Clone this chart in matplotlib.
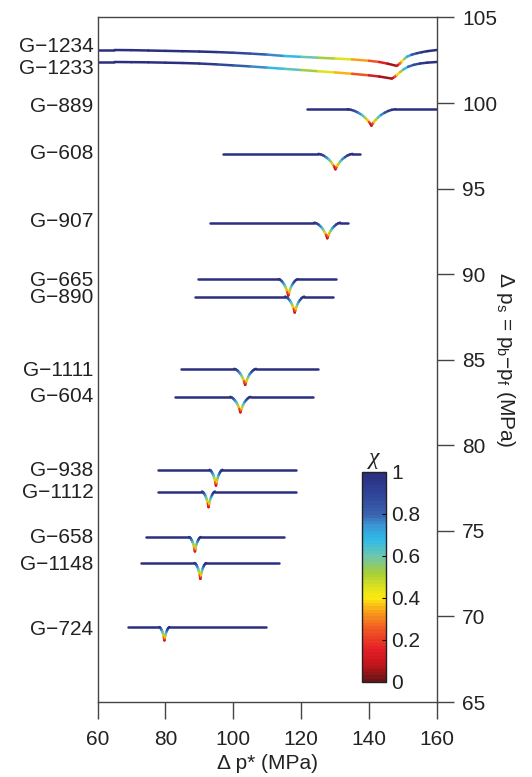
import numpy as np
import matplotlib
matplotlib.use('Agg')
import matplotlib.pyplot as plt
from matplotlib.collections import LineCollection
from matplotlib.colors import LinearSegmentedColormap, Normalize
from matplotlib.cm import ScalarMappable
import matplotlib.transforms as mtransforms

plt.rcParams['font.family'] = ['Liberation Sans', 'DejaVu Sans']
plt.rcParams['mathtext.fontset'] = 'custom'
plt.rcParams['mathtext.rm'] = 'Liberation Sans'
plt.rcParams['mathtext.it'] = 'Liberation Sans:italic'

# two long curves at the top, read point by point
G1234_X = [60, 65, 70, 75, 80, 85, 90, 95, 100, 105, 110, 115, 120, 125, 130, 135, 140, 143, 145.5, 148.2,
           149.0, 149.6, 150.4, 151.2, 152.5, 154.1, 155.5, 157.1, 160]
G1234_Y = [103.10, 103.10, 103.09, 103.07, 103.05, 103.03, 103.01, 102.98, 102.94, 102.89, 102.83, 102.75,
           102.70, 102.65, 102.60, 102.55, 102.47, 102.40, 102.30, 102.17,
           102.30, 102.42, 102.58, 102.71, 102.82, 102.91, 102.97, 103.03, 103.10]
G1234_CHI = [1, 1, 1, 1, 1, 1, 1, 0.97, 0.92, 0.86, 0.8, 0.72, 0.64, 0.56, 0.48, 0.4, 0.28, 0.2, 0.1, 0.02,
             0.2, 0.35, 0.5, 0.65, 0.78, 0.88, 0.93, 0.97, 1]

G1233_X = [60, 65, 70, 75, 80, 85, 90, 95, 100, 105, 110, 115, 120, 125, 130, 135, 140, 143, 146.7,
           147.5, 148.2, 149.2, 150.2, 151.5, 153.1, 155, 157.1, 160]
G1233_Y = [102.40, 102.40, 102.39, 102.38, 102.36, 102.34, 102.31, 102.26, 102.20, 102.14, 102.07, 102.00,
           101.93, 101.86, 101.79, 101.71, 101.62, 101.55, 101.43,
           101.52, 101.64, 101.82, 101.97, 102.12, 102.23, 102.31, 102.36, 102.40]
G1233_CHI = [1, 1, 1, 1, 1, 1, 0.97, 0.92, 0.85, 0.78, 0.72, 0.65, 0.57, 0.48, 0.4, 0.3, 0.18, 0.1, 0.02,
             0.15, 0.3, 0.45, 0.6, 0.75, 0.85, 0.92, 0.97, 1]

# dip profile shared by the short curves (offset / half width, fraction of depth, chi)
DIP_U = [1.0, 0.85, 0.7, 0.55, 0.4, 0.28, 0.18, 0.1, 0.04, 0.0]
DIP_F = [0.0, 0.04, 0.11, 0.22, 0.35, 0.5, 0.65, 0.78, 0.9, 1.0]
DIP_CHI = [1.0, 0.97, 0.9, 0.8, 0.7, 0.58, 0.42, 0.3, 0.15, 0.03]

NAMES = ['G\u2212889', 'G\u2212608', 'G\u2212907', 'G\u2212665', 'G\u2212890', 'G\u22121111', 'G\u2212604',
         'G\u2212938', 'G\u22121112', 'G\u2212658', 'G\u22121148', 'G\u2212724']
BASE = [99.64, 97.03, 93.01, 89.71, 88.69, 84.47, 82.83, 78.57, 77.30, 74.64, 73.12, 69.38]
X_START = [121.6, 97.1, 93.1, 89.7, 88.7, 84.5, 82.7, 77.8, 77.8, 74.3, 72.8, 69.0]
X_END = [160, 137.3, 133.8, 130.3, 129.3, 125.1, 123.6, 118.4, 118.4, 115.0, 113.5, 109.7]
DIP_X = [140.7, 130.1, 127.7, 116.2, 118.1, 103.5, 102.1, 94.9, 92.7, 88.7, 90.3, 79.7]
DEPTH = [0.96, 0.90, 0.91, 0.96, 0.93, 0.94, 0.90, 0.92, 0.91, 0.84, 0.92, 0.78]
HALF_W = [7.0, 5.0, 3.8, 2.8, 2.8, 3.2, 3.0, 1.9, 1.9, 1.7, 1.7, 1.5]

LABELS = ['G\u22121234', 'G\u22121233'] + NAMES
LABEL_Y = [103.30, 102.03, 99.79, 97.03, 93.05, 89.63, 88.62, 84.40, 82.83, 78.51, 77.23, 74.60, 73.02, 69.22]

CMAP_COLORS = [(0.0, '#6b1416'), (0.08, '#c4161c'), (0.15, '#e31f26'), (0.25, '#f15a24'),
               (0.32, '#f7941d'), (0.4, '#fde910'), (0.46, '#d7df23'), (0.52, '#a6ce39'),
               (0.6, '#6ec6b0'), (0.68, '#2fbbe8'), (0.75, '#3a96d4'), (0.8, '#3a64ae'),
               (0.9, '#2f4598'), (1.0, '#2a2f80')]
cmap = LinearSegmentedColormap.from_list('chi', CMAP_COLORS, N=64)
norm = Normalize(0, 1)


def dip_points(base, x0, x1, xc, depth, hw):
    xs = [x0]
    ys = [base]
    cs = [1.0]
    for u, f, c in zip(DIP_U, DIP_F, DIP_CHI):
        xs.append(xc - u * hw); ys.append(base - depth * f); cs.append(c)
    for u, f, c in zip(DIP_U[::-1][1:], DIP_F[::-1][1:], DIP_CHI[::-1][1:]):
        xs.append(xc + u * hw); ys.append(base - depth * f); cs.append(c)
    xs.append(x1); ys.append(base); cs.append(1.0)
    return np.array(xs), np.array(ys), np.array(cs)


def add_colored(ax, x, y, c):
    x = np.asarray(x, float); y = np.asarray(y, float); c = np.asarray(c, float)
    pts = np.column_stack([x, y]).reshape(-1, 1, 2)
    segs = np.concatenate([pts[:-1], pts[1:]], axis=1)
    lc = LineCollection(segs, cmap=cmap, norm=norm, linewidths=1.8, capstyle='round', joinstyle='round')
    lc.set_array(0.5 * (c[:-1] + c[1:]))
    ax.add_collection(lc)


fig = plt.figure(figsize=(5.32, 7.77), dpi=100)
ax = fig.add_axes([0.1833, 0.0965, 0.638, 0.881])

add_colored(ax, G1234_X, G1234_Y, G1234_CHI)
add_colored(ax, G1233_X, G1233_Y, G1233_CHI)
for i in range(len(NAMES)):
    xs, ys, cs = dip_points(BASE[i], X_START[i], X_END[i], DIP_X[i], DEPTH[i], HALF_W[i])
    add_colored(ax, xs, ys, cs)

ax.set_xlim(60, 160)
ax.set_ylim(65, 105)

trans = mtransforms.blended_transform_factory(ax.transAxes, ax.transData)
for name, yl in zip(LABELS, LABEL_Y):
    ax.text(-0.012, yl, name, transform=trans, ha='right', va='center', fontsize=15, color='#222222')

ax.yaxis.tick_right()
ax.yaxis.set_label_position('right')
ax.set_xticks([60, 80, 100, 120, 140, 160])
ax.set_yticks([65, 70, 75, 80, 85, 90, 95, 100, 105])
ax.tick_params(axis='both', direction='out', length=12, width=1, color='#444444',
               labelsize=15, labelcolor='#222222')
ax.tick_params(axis='x', pad=8)
ax.tick_params(axis='y', pad=6)
for sp in ax.spines.values():
    sp.set_color('#444444')
    sp.set_linewidth(1)

ax.set_xlabel('\u0394 p* (MPa)', fontsize=15, color='#222222', labelpad=4)
ax.set_ylabel('\u0394 p$_\\mathrm{s}$ = p$_\\mathrm{b}$\u2212p$_\\mathrm{f}$ (MPa)', fontsize=15,
              color='#222222', rotation=270, labelpad=14)

cax = fig.add_axes([0.680, 0.1223, 0.045, 0.2703])
sm = ScalarMappable(norm=norm, cmap=cmap)
cb = fig.colorbar(sm, cax=cax, ticks=[0, 0.2, 0.4, 0.6, 0.8, 1])
cb.ax.set_yticklabels(['0', '0.2', '0.4', '0.6', '0.8', '1'])
cb.ax.tick_params(direction='in', length=3, width=0.8, labelsize=15, labelcolor='#222222', pad=4)
cb.outline.set_linewidth(1)
cb.outline.set_edgecolor('#222222')
cax.set_title('\u03c7', fontsize=17, color='#222222', pad=6,
              fontfamily=['Liberation Serif', 'DejaVu Serif'], fontstyle='italic')

fig.savefig('out.png', dpi=100)
